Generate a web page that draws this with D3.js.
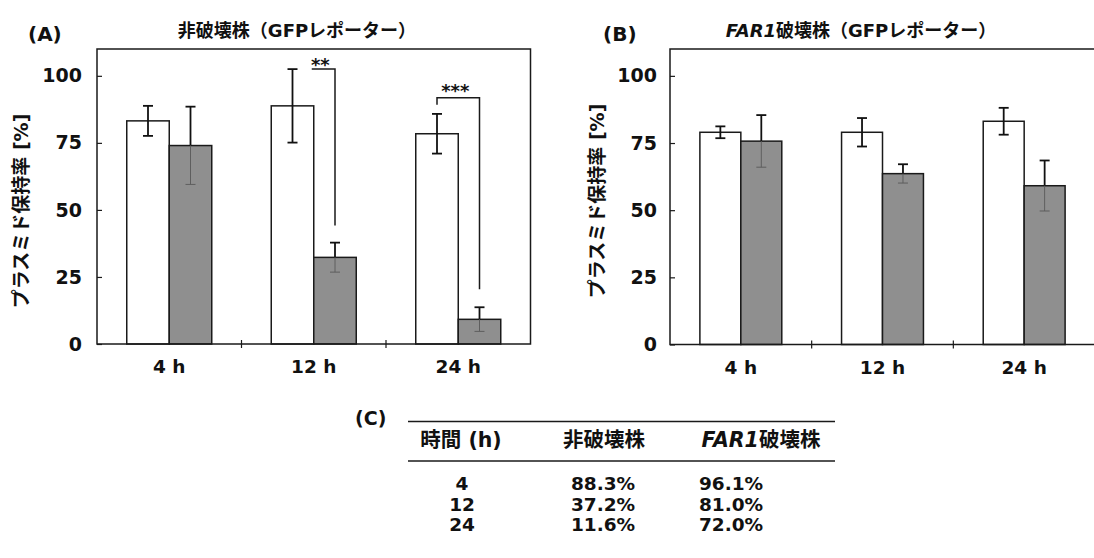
<!DOCTYPE html>
<html>
<head>
<meta charset="utf-8">
<script src="https://cdn.jsdelivr.net/npm/d3@7"></script>
<style>
  body { margin: 0; background: #fff; }
  svg text { font-family: "DejaVu Sans", "Noto Sans CJK JP", sans-serif; font-weight: bold; fill: #111; }
</style>
</head>
<body>
<svg id="fig" width="1094" height="558"></svg>
<script>
// ---- data ----
const categories = ["4 h", "12 h", "24 h"];
const yTicks = [0, 25, 50, 75, 100];

// non-disrupted strain (GFP reporter)
const wildOpenMean   = [83.2, 88.8, 78.4];
const wildOpenErr    = [5.6, 13.7, 7.4];
const wildFilledMean = [74.0, 32.3, 9.2];
const wildFilledErr  = [14.5, 5.5, 4.5];

// FAR1-disrupted strain (GFP reporter)
const far1OpenMean   = [79.0, 79.0, 83.1];
const far1OpenErr    = [2.2, 5.3, 5.0];
const far1FilledMean = [75.7, 63.6, 59.1];
const far1FilledErr  = [9.7, 3.5, 9.4];

// significance brackets (values on the y scale)
const wildBrackets = [
  { cat: "12 h", label: "**",  top: 102.5, leftDrop: null, rightDrop: 44.2 },
  { cat: "24 h", label: "***", top: 91.8,  leftDrop: 89.2, rightDrop: 20.4 }
];

// summary table
const tableHeader = ["時間 (h)", "非破壊株", "FAR1破壊株"];
const tableHours  = ["4", "12", "24"];
const tableWild   = ["88.3%", "37.2%", "11.6%"];
const tableFar1   = ["96.1%", "81.0%", "72.0%"];

const svg = d3.select("#fig");
const GRAY = "#8f8f8f";

function drawPanel(cfg) {
  const g = svg.append("g");
  const x0 = d3.scaleBand().domain(categories).range([cfg.left, cfg.right]).padding(0);
  const x1 = d3.scaleBand().domain(["open", "filled"]).range([0, x0.bandwidth()])
    .paddingInner(0).paddingOuter(cfg.outer);
  const y = d3.scaleLinear().domain([0, 110]).range([cfg.bottom, cfg.top]);

  const rows = categories.map((c, i) => ({
    cat: c,
    bars: [
      { key: "open",   v: cfg.openMean[i],   e: cfg.openErr[i] },
      { key: "filled", v: cfg.filledMean[i], e: cfg.filledErr[i] }
    ]
  }));

  // bars
  const grp = g.selectAll("g.cat").data(rows).join("g")
    .attr("class", "cat")
    .attr("transform", d => `translate(${x0(d.cat)},0)`);

  grp.selectAll("rect").data(d => d.bars).join("rect")
    .attr("x", d => x1(d.key))
    .attr("y", d => y(d.v))
    .attr("width", x1.bandwidth())
    .attr("height", d => y(0) - y(d.v))
    .attr("fill", d => d.key === "open" ? "#fff" : GRAY)
    .attr("stroke", "#1a1a1a")
    .attr("stroke-width", 1.5);

  // error bars
  const cap = 5;
  grp.each(function (d) {
    const sel = d3.select(this);
    d.bars.forEach(b => {
      const cx = x1(b.key) + x1.bandwidth() / 2;
      // upper whisker
      sel.append("line").attr("x1", cx).attr("x2", cx)
        .attr("y1", y(b.v)).attr("y2", y(b.v + b.e))
        .attr("stroke", "#111").attr("stroke-width", 1.8);
      sel.append("line").attr("x1", cx - cap).attr("x2", cx + cap)
        .attr("y1", y(b.v + b.e)).attr("y2", y(b.v + b.e))
        .attr("stroke", "#111").attr("stroke-width", 1.8);
      // lower whisker (faint inside the filled bars)
      const lc = b.key === "open" ? "#111" : "#5e5e5e";
      const lw = b.key === "open" ? 1.8 : 1;
      sel.append("line").attr("x1", cx).attr("x2", cx)
        .attr("y1", y(b.v)).attr("y2", y(b.v - b.e))
        .attr("stroke", lc).attr("stroke-width", lw);
      sel.append("line").attr("x1", cx - cap).attr("x2", cx + cap)
        .attr("y1", y(b.v - b.e)).attr("y2", y(b.v - b.e))
        .attr("stroke", lc).attr("stroke-width", lw);
    });
  });

  // frame
  g.append("rect")
    .attr("x", cfg.left).attr("y", cfg.top)
    .attr("width", cfg.right - cfg.left).attr("height", cfg.bottom - cfg.top)
    .attr("fill", "none").attr("stroke", "#1a1a1a").attr("stroke-width", 1.5);

  // y axis
  const ya = g.append("g").attr("transform", `translate(${cfg.left},0)`)
    .call(d3.axisLeft(y).tickValues(yTicks).tickSizeInner(-5).tickSizeOuter(0).tickPadding(cfg.tickPad));
  ya.select(".domain").remove();
  ya.selectAll(".tick line").attr("stroke", "#1a1a1a").attr("stroke-width", 1.2);
  ya.selectAll(".tick text").style("font-size", "19px").attr("fill", "#111");

  // x axis labels
  const xa = g.append("g").attr("transform", `translate(0,${cfg.bottom})`)
    .call(d3.axisBottom(x0).tickSize(0).tickPadding(16));
  xa.select(".domain").remove();
  xa.selectAll(".tick text").style("font-size", "18.5px").attr("fill", "#111");

  // boundary ticks between categories
  g.selectAll("line.bnd").data(categories.slice(1)).join("line")
    .attr("class", "bnd")
    .attr("x1", d => x0(d)).attr("x2", d => x0(d))
    .attr("y1", cfg.bottom - 4).attr("y2", cfg.bottom + 4)
    .attr("stroke", "#1a1a1a").attr("stroke-width", 1.2);

  // significance brackets
  (cfg.brackets || []).forEach(br => {
    const bx = x0(br.cat);
    const xl = br.leftDrop == null
      ? bx + x1("open") + x1.bandwidth() - 2
      : bx + x1("open") + x1.bandwidth() / 2;
    const xr = bx + x1("filled") + x1.bandwidth() / 2;
    const pts = [];
    if (br.leftDrop != null) pts.push([xl, y(br.leftDrop)]);
    pts.push([xl, y(br.top)], [xr, y(br.top)], [xr, y(br.rightDrop)]);
    g.append("path").attr("d", d3.line()(pts))
      .attr("fill", "none").attr("stroke", "#1a1a1a").attr("stroke-width", 1.5);
    g.append("text")
      .attr("x", (xl + xr) / 2 - 3).attr("y", y(br.top) + (br.leftDrop == null ? 2 : -1))
      .attr("text-anchor", "middle")
      .style("font-size", "18px").attr("fill", "#6a6a6a").text(br.label);
  });

  // y axis title
  svg.append("text")
    .attr("transform", `translate(${cfg.ylabX},${cfg.ylabY}) rotate(-90)`)
    .attr("text-anchor", "middle").attr("dominant-baseline", "central")
    .style("font-size", "19px").text("プラスミド保持率 [%]");

  // panel letter + title
  svg.append("text").attr("x", cfg.letterX).attr("y", 41)
    .style("font-size", "20px").text(cfg.letter);
  const t = svg.append("text").attr("x", cfg.titleX).attr("y", 37)
    .attr("text-anchor", "middle").style("font-size", "18px");
  if (cfg.italicPrefix) t.append("tspan").style("font-style", "italic").text(cfg.italicPrefix);
  t.append("tspan").text(cfg.title);
}

drawPanel({
  left: 97, right: 530.5, top: 49, bottom: 344, outer: 0.7, tickPad: 15,
  openMean: wildOpenMean, openErr: wildOpenErr,
  filledMean: wildFilledMean, filledErr: wildFilledErr,
  brackets: wildBrackets,
  ylabX: 21, ylabY: 211, letter: "(A)", letterX: 28,
  titleX: 297, title: "非破壊株（GFPレポーター）"
});

drawPanel({
  left: 670, right: 1095, top: 49, bottom: 344.5, outer: 0.73, tickPad: 13,
  openMean: far1OpenMean, openErr: far1OpenErr,
  filledMean: far1FilledMean, filledErr: far1FilledErr,
  ylabX: 597, ylabY: 201, letter: "(B)", letterX: 603,
  titleX: 861, italicPrefix: "FAR1", title: "破壊株（GFPレポーター）"
});

// ---- table (C) ----
const tg = svg.append("g");
tg.append("text").attr("x", 355).attr("y", 425).style("font-size", "19px").text("(C)");
tg.append("line").attr("x1", 408).attr("x2", 835).attr("y1", 421.5).attr("y2", 421.5)
  .attr("stroke", "#1a1a1a").attr("stroke-width", 1.5);
tg.append("line").attr("x1", 408).attr("x2", 835).attr("y1", 461).attr("y2", 461)
  .attr("stroke", "#1a1a1a").attr("stroke-width", 1.5);

const headX = [461, 604, 761];
tableHeader.forEach((h, i) => {
  const t = tg.append("text").attr("x", headX[i]).attr("y", 447)
    .attr("text-anchor", "middle").style("font-size", "20.5px");
  if (h.startsWith("FAR1")) {
    t.append("tspan").style("font-style", "italic").text("FAR1");
    t.append("tspan").text(h.slice(4));
  } else {
    t.text(h);
  }
});

const colX = [462, 603, 731];
const rowY = [490, 510.5, 531];
[tableHours, tableWild, tableFar1].forEach((col, ci) => {
  tg.selectAll(null).data(col).join("text")
    .attr("x", colX[ci]).attr("y", (d, i) => rowY[i])
    .attr("text-anchor", "middle").style("font-size", "18.5px")
    .text(d => d);
});
</script>
</body>
</html>
